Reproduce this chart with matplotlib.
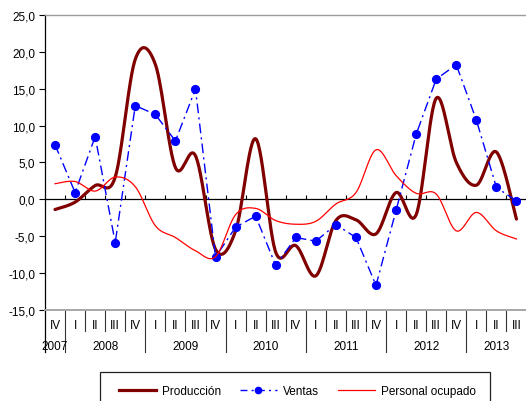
import numpy as np
import matplotlib
matplotlib.use("Agg")
import matplotlib.pyplot as plt
from matplotlib.lines import Line2D
from matplotlib.patches import Rectangle
from matplotlib.ticker import FuncFormatter, MultipleLocator
import matplotlib.transforms as mtransforms

plt.rcParams['font.family'] = ['Liberation Sans', 'DejaVu Sans']

# ---- data ----
quarters = ['IV', 'I', 'II', 'III', 'IV', 'I', 'II', 'III', 'IV', 'I', 'II', 'III',
            'IV', 'I', 'II', 'III', 'IV', 'I', 'II', 'III', 'IV', 'I', 'II', 'III']
years = ['2007', '2008', '2009', '2010', '2011', '2012', '2013']
year_counts = [1, 4, 4, 4, 4, 4, 3]

produccion = [-1.4, -0.4, 1.85, 3.0, 19.0, 18.3, 4.3, 5.9, -6.8, -4.3, 8.2, -7.2,
              -6.3, -10.4, -2.9, -2.8, -4.7, 0.9, -2.1, 13.7, 5.0, 1.9, 6.4, -2.7]
ventas = [7.4, 0.9, 8.5, -5.9, 12.7, 11.5, 7.9, 14.95, -7.85, -3.8, -2.3, -9.0,
          -5.2, -5.7, -3.45, -5.2, -11.7, -1.5, 8.8, 16.3, 18.25, 10.75, 1.6, -0.25]
personal = [2.1, 2.4, 1.1, 3.0, 1.7, -3.6, -5.2, -7.0, -7.8, -2.1, -1.25, -2.9,
            -3.4, -3.0, -0.65, 0.9, 6.7, 3.2, 0.8, 0.7, -4.3, -1.8, -4.3, -5.4]


def smooth(vals, n=30):
    """Excel-like smoothed line (Catmull-Rom Bezier) through the points."""
    y = np.asarray(vals, float)
    x = np.arange(len(y), dtype=float)
    P = np.column_stack([x, y])
    P = np.vstack([P[0], P, P[-1]])
    out = []
    t = np.linspace(0, 1, n)[:, None]
    for i in range(1, len(P) - 2):
        p0, p1, p2, p3 = P[i - 1], P[i], P[i + 1], P[i + 2]
        c1 = p1 + (p2 - p0) / 6.0
        c2 = p2 - (p3 - p1) / 6.0
        seg = ((1 - t) ** 3) * p1 + 3 * ((1 - t) ** 2) * t * c1 + 3 * (1 - t) * t ** 2 * c2 + t ** 3 * p2
        out.append(seg if i == 1 else seg[1:])
    out = np.vstack(out)
    return out[:, 0], out[:, 1]


W, H = 526, 402
fig = plt.figure(figsize=(W / 100, H / 100), dpi=100)
left, right, top, bottom = 45, 526.5, 16, 310.7
ax = fig.add_axes([left / W, 1 - bottom / H, (right - left) / W, (bottom - top) / H])

n = len(quarters)
xs = np.arange(n)

c_prod = '#800000'
c_vent = '#0000FF'
c_pers = '#FF0000'

sx, sy = smooth(produccion)
ax.plot(sx, sy, color=c_prod, lw=2.3, solid_capstyle='round', zorder=3)
ax.plot(xs, ventas, color=c_vent, lw=1.0, linestyle=(0, (7, 3, 1.5, 3)),
        marker='o', markersize=5.6, markerfacecolor=c_vent, markeredgecolor=c_vent, zorder=4)
sx, sy = smooth(personal)
ax.plot(sx, sy, color=c_pers, lw=0.9, zorder=5)

ax.set_xlim(-0.5, n - 0.5)
ax.set_ylim(-15, 25)
ax.yaxis.set_major_locator(MultipleLocator(5))
ax.yaxis.set_major_formatter(FuncFormatter(lambda v, p: f"{v:.1f}".replace('.', ',')))
ax.tick_params(axis='y', direction='out', length=4, width=0.8, labelsize=8.5, pad=3,
               colors='black')
ax.set_xticks([])

for s in ['right']:
    ax.spines[s].set_visible(False)
ax.spines['top'].set_color('#9a9a9a')
ax.spines['top'].set_linewidth(1.0)
ax.spines['bottom'].set_color('#a6a6a6')
ax.spines['bottom'].set_linewidth(1.4)
ax.spines['left'].set_color('black')
ax.spines['left'].set_linewidth(0.9)

# zero line with small tick marks
ax.axhline(0, color='black', lw=0.9, zorder=2)
bounds = np.arange(n - 1) + 0.5
ax.vlines(bounds, 0, 0.6, color='black', lw=0.8, zorder=2)

# category table below the plot
trans = mtransforms.blended_transform_factory(ax.transData, ax.transAxes)
ah = bottom - top
q_y = -15 / ah
yr_y = -36.5 / ah
short_end = -21.5 / ah
long_end = -42 / ah

for i, q in enumerate(quarters):
    ax.text(i, q_y, q, transform=trans, ha='center', va='center', fontsize=8.5)

starts = np.concatenate([[0], np.cumsum(year_counts)[:-1]])
year_bounds = set()
for yname, st, cnt in zip(years, starts, year_counts):
    ctr = st + (cnt - 1) / 2.0
    ax.text(ctr, yr_y, yname, transform=trans, ha='center', va='center', fontsize=8.5)
    if st > 0:
        year_bounds.add(st - 0.5)

for b in bounds:
    end = long_end if b in year_bounds else short_end
    ax.add_line(Line2D([b, b], [0, end], transform=trans, color='#333333', lw=0.8,
                       clip_on=False))
ax.add_line(Line2D([-0.5, -0.5], [0, long_end], transform=trans, color='black', lw=0.9,
                   clip_on=False))

# legend
fig.patches.append(Rectangle((100 / W, -0.05), 390 / W, (402 - 373) / H + 0.05,
                             transform=fig.transFigure, fill=False, edgecolor='#222222',
                             lw=0.9))
handles = [Line2D([], [], color=c_prod, lw=2.3),
           Line2D([], [], color=c_vent, lw=1.0, linestyle=(0, (5, 3, 1.5, 3)),
                  marker='o', markersize=4.5, markerfacecolor=c_vent, markeredgecolor=c_vent),
           Line2D([], [], color=c_pers, lw=0.9)]
labels = ['Producción', 'Ventas', 'Personal ocupado']
fig.legend(handles, labels, loc='center left', bbox_to_anchor=(119 / W, 10 / H),
           ncol=3, frameon=False, fontsize=8.5, handlelength=3.1, handletextpad=0.55,
           columnspacing=1.6, borderpad=0, borderaxespad=0, numpoints=1)

fig.savefig('out.png', dpi=100)
